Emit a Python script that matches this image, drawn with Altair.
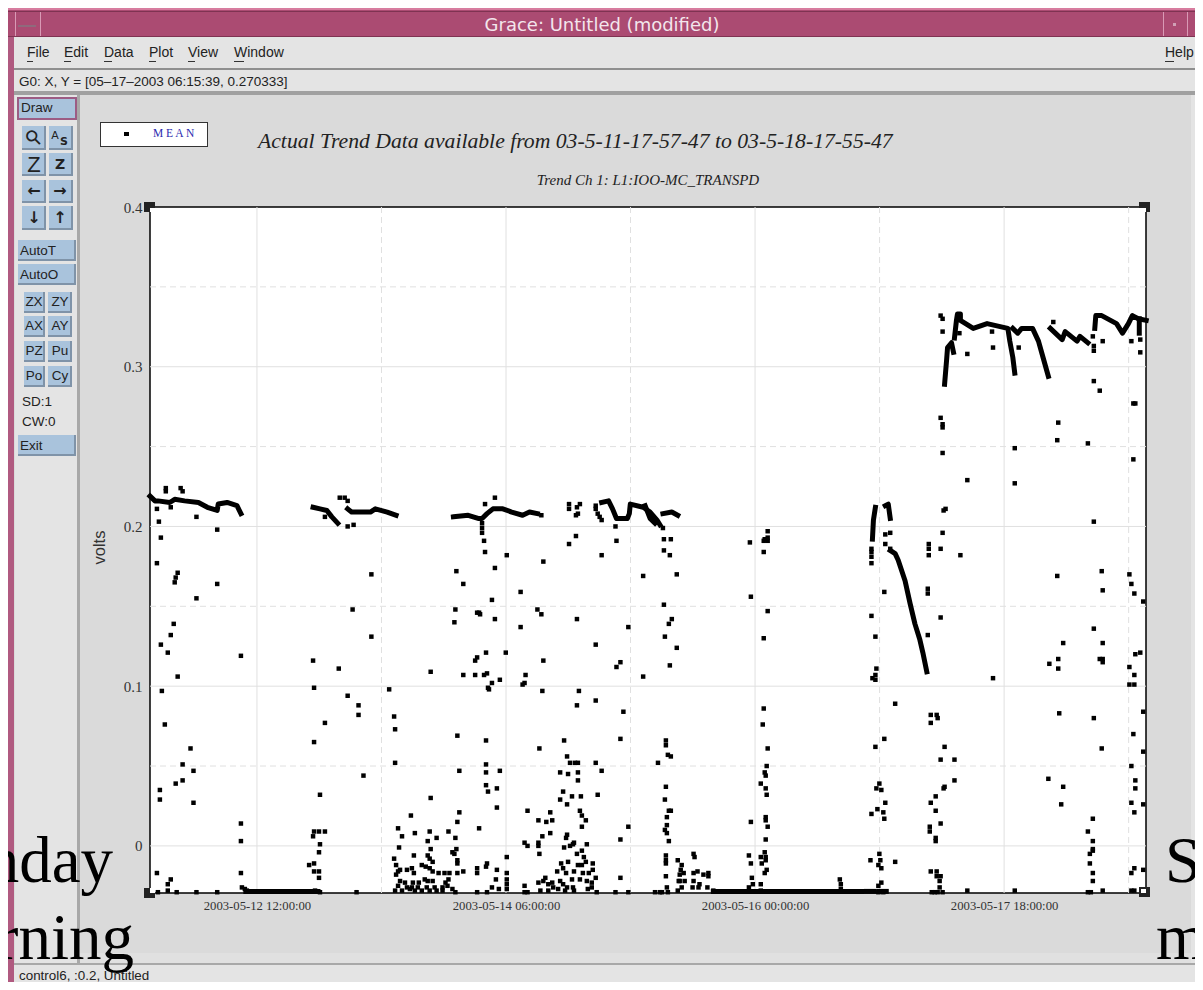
import altair as alt
import pandas as pd

# ---- time base: one step = ten minutes of trend data
START = pd.Timestamp("2003-05-11 17:57:47")

# ---- stray samples (step, millivolts)
strays_may11 = [(9,203),(47,206),(68,198),(11,193),(7,177),(28,171),(25,165),(26,168),(68,164),(47,155),(24,139),(21,132),(11,126),(18,121),(92,119),(28,106),(12,97),
    (15,76),(41,61),(33,51),(44,47),(33,41),(26,39),(10,35),(10,29),(44,27),(7,-17),(21,-21),(18,-24),(18,-28),(27,-29),(8,-29),(47,-29),(68,-29),
    (16,224),(16,222),(31,224),(33,222),(7,211),(21,212),(92,14),(92,3),(92,-17),(93,-26),(96,-27),(98,-28)]
strays_may12 = [(165,116),(191,111),(166,99),(200,94),(211,88),(242,98),(224,170),(205,148),(224,131),(200,200),(206,201),(211,82),(177,77),(166,65),(172,32),(216,44),
    (166,9),(171,9),(177,9),(165,6),(172,1),(171,-4),(161,-12),(166,-11),(166,-16),(171,-16),(171,-20),(167,-28),(172,-29),(209,-29),(177,206),(192,218),(197,218),(200,216)]
strays_may13 = [(310,172),(317,164),(309,148),(308,140),(331,146),(333,146),(338,191),(339,184),(340,121),(331,118),(329,116),(284,109),(317,107),(329,107),(338,107),(341,108),(342,99),(343,98),
    (339,214),(336,199),(336,196),(336,202),(311,69),(313,47),(340,66),(340,51),(340,46),(340,38),(342,34),(333,11),(247,81),(248,73),(248,52),(251,11),(255,6),(268,8),(264,19),(284,30),(283,9),(281,3),(290,5),(302,9),(309,5),(313,21),(311,15)]
cluster_may13 = [(252,-1),(247,-8),(249,-12),(251,-16),(249,-18),(253,-15),(260,-15),(265,-14),(267,-17),(267,-6),(284,-2),(281,-6),(283,-8),(286,-10),(275,-12),(279,-13),(283,-14),(286,-16),(292,-17),(298,-17),(303,-17),(311,-17),(317,-16),
    (306,-4),(310,-2),(308,-5),(311,-9),(311,-11),(331,-14),(331,-17),(341,-11),(340,-13),(278,-21),(281,-22),(286,-22),(302,-21),(299,-23),(253,-22),(258,-23),(266,-23),(272,-23),(251,-25),(260,-26),(265,-26),(271,-26),(280,-26),(288,-26),(296,-26),(301,-25),(306,-27),
    (248,-28),(255,-28),(263,-27),(268,-28),(275,-28),(283,-28),(290,-28),(296,-28),(309,-29),(331,-29),(341,-29)]
strays_may14 = [(349,218),(396,207),(424,214),(424,211),(435,214),(432,212),(433,208),(431,207),(451,213),(451,211),(453,208),(457,204),(455,206),(471,200),(472,191),(457,182),(349,174),(361,182),(398,178),(346,154),(349,142),(334,145),(375,159),(392,148),(396,145),(375,137),
    (360,121),(398,116),(346,102),(354,104),(380,107),(379,102),(377,101),(397,97),(434,97),(451,91),(432,88),(424,189),(431,194),(432,142),(451,126),(476,115),(472,112),(499,169),(499,106),(484,137),
    (520,192),(527,192),(520,185),(526,182),(533,170),(520,151),(528,142),(525,139),(521,131),(533,124),(526,113),(519,199)]
cluster_may14 = [(479,84),(476,67),(394,61),(419,66),(422,56),(425,52),(430,52),(433,52),(451,52),(457,47),(415,46),(423,45),(433,46),(433,41),(354,47),(351,36),(351,24),(418,34),(427,31),(436,31),(453,32),(415,29),(422,26),(382,22),(405,21),(435,22),(437,19),(441,16),(437,12),(393,16),(401,15),(407,16),(405,8),(397,6),(422,7),(421,5),
    (379,2),(382,0),(393,2),(393,0),(394,-5),(419,-1),(425,0),(428,1),(429,2),(442,1),(437,-3),(432,-5),(439,-7),(441,-10),(361,-7),(416,-11),(423,-10),(448,-11),(433,-12),(437,-12),(351,-15),(361,-17),(412,-16),(418,-14),(421,-17),(429,-16),(438,-17),(444,-17),(448,-15),
    (350,-21),(361,-21),(361,-24),(361,-27),(346,-26),(353,-27),(379,-25),(379,-29),(382,-29),(400,-20),(393,-23),(398,-22),(403,-24),(407,-23),(415,-22),(418,-24),(422,-26),(427,-21),(435,-21),(442,-22),(447,-23),(451,-20),(447,-26),(428,-26),(408,-26),(395,-28),(403,-28),(413,-27),(420,-28),(429,-28),(443,-27),(452,-29),(471,-29),(484,-29),(476,-20),(476,4),(484,12)]
column_may15 = [(522,66),(522,63),(514,52),(524,57),(527,56),(522,37),(521,29),(525,22),(527,22),(523,18),(523,13),(521,10),(523,8),(525,3),(522,-6),(522,-11),(522,-9),(522,-19),(523,-26),(518,-29),(524,-29),(511,-29),(516,-29),
    (534,-9),(537,-15),(536,-18),(540,-17),(535,-22),(541,-22),(538,-26),(534,-28),(551,-7),(550,-5),(550,-17),(554,-16),(560,-18),(565,-17),(565,-19),(550,-22),(556,-24),(564,-26),(549,-26),(570,-28),(555,-26),(536,-22),(538,-12)]
column_may16 = [(621,86),(620,76),(625,61),(624,50),(623,44),(622,46),(618,39),(623,36),(624,32),(623,18),(623,16),(625,12),(608,15),(623,4),(606,-6),(608,-11),(618,-7),(619,-11),(622,-4),(623,-7),(623,-9),(624,-15),(622,-17),(609,-20),(618,-24),(610,-24),(606,-26),(618,-28),
    (625,197),(625,193),(622,192),(621,191),(625,191),(621,184),(607,190),(608,156),(625,147),(621,130)]
strays_may17 = [(800,332),(802,330),(802,322),(800,268),(802,264),(802,262),(802,246),(827,308),(853,312),(879,312),(827,229),(875,249),(875,227),(914,328),(919,265),(918,254),(949,252),(964,316),(955,310),(955,313),(955,291),(961,285),(955,203),(993,316),(1002,317),(1002,309),(995,277),(997,277),(995,242),
    (803,210),(805,211),(802,196),(800,186),(749,196),(744,195),(749,186),(788,189),(788,186),(730,186),(744,189),(788,182),(820,182),(730,184),(730,181),(730,177),(743,159),(787,161),(787,158),(730,144),(800,143),(787,132),(734,131),(735,111),(734,107),(731,105),(734,104),(754,89),(853,105),(819,321),(852,322),(954,319)]
strays_may18 = [(918,169),(963,172),(964,160),(991,170),(993,164),(996,158),(1005,153),(955,136),(924,127),(964,127),(919,117),(910,114),(919,111),(961,117),(964,117),(964,115),(997,120),(1002,121),(991,112),(996,107),(991,101),(996,101),(920,83),(955,80),(1005,84),(995,70),(963,61),(1005,59),
    (790,82),(796,82),(797,80),(790,77),(743,67),(734,62),(804,62),(800,54),(814,54),(814,41),(804,37),(803,36),(795,31),(790,27),(795,22),(800,14),(789,12),(789,9),(795,3),(795,5),(790,-16),(796,-16),(796,-19),(800,-19),(799,-22),(799,-26),(791,-29),(794,-29),(797,-29),(802,-29),
    (738,39),(735,36),(740,35),(744,27),(736,23),(730,20),(742,21),(743,17),(738,-5),(729,-9),(739,-9),(737,-12),(740,-14),(754,-10),(740,-23),(737,-25),(737,-29),(742,-29),(698,-21),(699,-24),(699,-27),(827,-28),(875,-28),
    (909,42),(924,37),(922,26),(954,17),(949,9),(954,3),(954,-2),(954,-3),(951,-5),(951,-11),(954,-17),(954,-22),(949,-29),(952,-29),(964,-28),(993,50),(997,41),(997,36),(993,27),(1005,26),(996,21),(996,-14),(993,-17),(1005,-15),(993,-28),(996,-28)]

# ---- continuous stretches of the trend (step, millivolts)
run_a = [(0,219),(5,216),(8,216),(20,215),(25,217),(35,216),(49,215),(58,212),(68,210),(69,214),(78,215),(88,213),(92,208)]
run_b = [(165,212),(172,211),(179,210),(184,206),(190,202)]
run_c = [(200,211),(204,209),(223,209),(228,211),(240,209),(249,207)]
run_d = [(307,206),(322,207),(332,205),(336,205),(341,208),(347,211),(357,211),(366,209),(377,207),(384,209),(392,208)]
run_e = [(457,215),(464,216),(468,211),(472,205),(483,205),(485,208),(486,214),(499,212),(506,209),(513,204),(516,201)]
run_f = [(501,213),(506,205),(511,202)]
run_g = [(519,208),(528,209),(534,207)]
run_h = [(731,192),(732,204),(734,212)]
run_i = [(744,213),(747,214),(749,205)]
run_j = [(749,185),(754,183),(757,179),(764,166),(769,152),(774,139),(779,129),(782,121),(786,109)]
run_k = [(804,289),(806,304),(807,312),(811,315),(813,309)]
run_l = [(814,318),(816,329),(817,333),(820,333),(820,329),(833,324),(847,327),(868,324),(870,316),(873,306),(875,296)]
run_m = [(873,324),(878,321),(882,324),(893,324),(899,316),(904,305),(909,294)]
run_n = [(911,324),(923,317),(926,322),(938,316),(941,319),(949,315)]
run_o = [(956,324),(957,332),(963,332),(978,327),(984,321),(990,327),(994,332),(1000,330),(1008,329)]
run_p = [(1001,330),(1001,321)]
floor_a = [(97,-28.5),(170,-28.5)]
floor_b = [(570,-28.5),(720,-28.5)]
floor_c = [(725,-28.5),(733,-28.5)]
floor_d = [(738,-28.5),(745,-28.5)]

# ---- axis grid times and texts
major_hours = ["2003-05-12 12:00:00", "2003-05-14 06:00:00", "2003-05-16 00:00:00", "2003-05-17 18:00:00"]
minor_hours = ["2003-05-13 09:00:00", "2003-05-15 03:00:00", "2003-05-16 21:00:00", "2003-05-18 15:00:00"]
major_volts = [0.0, 0.1, 0.2, 0.3]
minor_volts = [0.05, 0.15, 0.25, 0.35]
volt_ticks = [0, 0.1, 0.2, 0.3, 0.4]
menu_items = ["File", "Edit", "Data", "Plot", "View", "Window"]

SERIF = "Liberation Serif"
SANS = "Liberation Sans"


def frame(rows):
    df = pd.DataFrame(rows, columns=["step", "mv"])
    df["time"] = START + pd.to_timedelta(df["step"] * 10, unit="min")
    df["volts"] = df["mv"] / 1000
    return df


X_SCALE = alt.Scale(domain=[alt.DateTime(year=2003, month=5, date=11, hours=17, minutes=57, seconds=47),
                            alt.DateTime(year=2003, month=5, date=18, hours=17, minutes=55, seconds=47)])
Y_SCALE = alt.Scale(domain=[-0.0295, 0.4], nice=False, zero=False)
X_AXIS = alt.Axis(
    values=[alt.DateTime(year=2003, month=5, date=12, hours=12), alt.DateTime(year=2003, month=5, date=14, hours=6),
            alt.DateTime(year=2003, month=5, date=16), alt.DateTime(year=2003, month=5, date=17, hours=18)],
    format="%Y-%m-%d %H:%M:%S", grid=False, ticks=False, domain=False, labelFont=SERIF, labelFontSize=12.7,
    labelColor="#333333", labelPadding=6, labelAngle=0, labelFlush=False, labelOverlap=False)
Y_AXIS = alt.Axis(
    values=volt_ticks, format="~g", grid=False, ticks=False, domain=False, labelFont=SERIF, labelFontSize=15,
    labelColor="#333333", labelPadding=8, labelFlush=False, labelOverlap=False,
    titleFont=SANS, titleFontSize=16.5, titleFontWeight="normal", titleColor="#333333", titleX=-43, titleY=340)
FULL_X = alt.X("time:T", scale=X_SCALE, title=None, axis=X_AXIS)
FULL_Y = alt.Y("volts:Q", scale=Y_SCALE, title="volts", axis=Y_AXIS)

PX0, PY0 = 150, 207
layers = []


def box(x0, y0, x1, y1, color, **kw):
    layers.append(alt.Chart().mark_rect(color=color, **kw).encode(
        x=alt.value(x0 - PX0), x2=alt.value(x1 - PX0), y=alt.value(y0 - PY0), y2=alt.value(y1 - PY0)))


def label(text, x, y, size=13.5, font=SANS, color="#222222", align="left", baseline="middle", **kw):
    return alt.Chart().mark_text(text=text, fontSize=size, font=font, color=color, align=align, baseline=baseline, **kw).encode(
        x=alt.value(x - PX0), y=alt.value(y - PY0))


def write(*a, **k):
    layers.append(label(*a, **k))


def button(x0, y0, x1, y1, border=None):
    box(x0, y0, x1, y1, border or "#7f93a8")
    box(x0 + (2 if border else 0), y0 + (2 if border else 0), x1 - 2, y1 - 2, "#a9c3dc")


# ---- window chrome
box(8, 8, 1203, 37, "#ab4b72")
box(8, 8, 1203, 10, "#d77c9f")
box(8, 11, 1203, 12, "#7f3352")
box(8, 36, 1203, 37, "#7f3352")
box(14, 37, 1203, 68, "#e4e4e4")
box(8, 37, 14, 990, "#b05a80")
box(8, 987, 1203, 990, "#b05a80")
box(14, 68, 1203, 70, "#8f8f8f")
box(14, 70, 1203, 91, "#e4e4e4")
box(14, 91, 1203, 95, "#a0a0a0")
box(15, 95, 77, 964, "#e4e4e4")
box(77, 95, 80, 964, "#a8a8a8")
box(1191, 95, 1203, 964, "#e4e4e4")
box(80, 953, 1191, 963, "#e0e0e0")
box(14, 963, 1203, 965, "#a8a8a8")
box(14, 965, 1203, 987, "#e4e4e4")
box(15, 12, 16, 36, "#d99ab5")
box(40, 12, 41, 36, "#d99ab5")
box(18, 25, 36, 27, "#8f6a7c")
box(1163, 12, 1164, 36, "#d99ab5")
box(1187, 12, 1188, 36, "#d99ab5")
box(1173, 23, 1176, 26, "#d0a0b5")
write("Grace: Untitled (modified)", 602, 26, size=18, font="DejaVu Sans", color="#f3e6ec", align="center")

for name, x, w in zip(menu_items, [27, 64, 104, 149, 188, 234], [6, 7, 8, 7, 7, 10]):
    write(name, x, 53, size=14)
    box(x, 61, x + w, 62, "#333333")
write("Help", 1165, 53, size=14)
box(1165, 61, 1174, 62, "#333333")
write("G0: X, Y = [05–17–2003 06:15:39, 0.270333]", 19, 82, size=13.5)
write("control6, :0.2, Untitled", 19, 976, size=13.4)

# ---- tool panel
button(17, 97, 77, 120, border="#9c5c84")
write("Draw", 21, 108)
for y0, y1 in [(126, 150), (153, 176), (180, 203), (206, 230)]:
    button(22, y0, 46, y1)
    button(49, y0, 73, y1)
write("⚲", 34, 138, size=20, font="DejaVu Sans", align="center", angle=315)
write("A", 55, 136, size=11, font="DejaVu Sans", align="center")
write("S", 64, 142, size=11, font="DejaVu Sans", align="center", fontWeight="bold")
write("Z", 34, 165, size=22, align="center")
write("Z", 60, 165, size=14, font="DejaVu Sans", align="center", fontWeight="bold")
write("←", 34, 191, size=16, font="DejaVu Sans", align="center", fontWeight="bold")
write("→", 60, 191, size=16, font="DejaVu Sans", align="center", fontWeight="bold")
write("↓", 34, 218, size=16, font="DejaVu Sans", align="center", fontWeight="bold")
write("↑", 60, 218, size=16, font="DejaVu Sans", align="center", fontWeight="bold")
for text, y0, y1 in [("AutoT", 240, 261), ("AutoO", 264, 285), ("Exit", 435, 456)]:
    button(18, y0, 76, y1)
    write(text, 20, (y0 + y1) / 2)
for (t1, t2), y0 in zip([("ZX", "ZY"), ("AX", "AY"), ("PZ", "Pu"), ("Po", "Cy")], [292, 316, 341, 366]):
    button(24, y0, 45, y0 + 21)
    button(48, y0, 72, y0 + 21)
    write(t1, 34, y0 + 10, align="center")
    write(t2, 60, y0 + 10, align="center")
write("SD:1", 22, 402)
write("CW:0", 22, 422)

# ---- legend and titles
box(100, 122, 208, 147, "#333333")
box(101, 123, 207, 146, "#ffffff")
box(124, 132, 129, 136, "#000000")
write("M E A N", 153, 134, size=11.5, font=SERIF, color="#2a2ab0")
write("Actual Trend Data available from 03-5-11-17-57-47 to 03-5-18-17-55-47", 258, 141, size=21.7, font=SERIF, color="#222222", fontStyle="italic")
write("Trend Ch 1: L1:IOO-MC_TRANSPD", 648, 180, size=15, font=SERIF, color="#222222", align="center", fontStyle="italic")

# ---- grid
grid_major = pd.DataFrame({"time": pd.to_datetime(major_hours)})
grid_minor = pd.DataFrame({"time": pd.to_datetime(minor_hours)})
grid_v = pd.DataFrame({"volts": major_volts})
grid_w = pd.DataFrame({"volts": minor_volts})
layers.append(alt.Chart(grid_major).mark_rule(color="#e0e0e0", strokeWidth=1).encode(x=FULL_X))
layers.append(alt.Chart(grid_minor).mark_rule(color="#e0e0e0", strokeWidth=1, strokeDash=[6, 4]).encode(x=FULL_X))
layers.append(alt.Chart(grid_v).mark_rule(color="#e0e0e0", strokeWidth=1).encode(y=FULL_Y))
layers.append(alt.Chart(grid_w).mark_rule(color="#e0e0e0", strokeWidth=1, strokeDash=[6, 4]).encode(y=FULL_Y))

# ---- data
run_frames = []
for i, run in enumerate([run_a, run_b, run_c, run_d, run_e, run_f, run_g, run_h, run_i, run_j, run_k, run_l, run_m, run_n, run_o, run_p,
                         floor_a, floor_b, floor_c, floor_d]):
    run_frames.append(frame(run).assign(run=i))
runs = pd.concat(run_frames)
layers.append(alt.Chart(runs).mark_line(color="#000000", strokeWidth=5, strokeCap="square", strokeJoin="round").encode(
    x=FULL_X, y=FULL_Y, detail="run:N", order="step:Q"))

samples = frame(strays_may11 + strays_may12 + strays_may13 + cluster_may13 + strays_may14 + cluster_may14 + column_may15 + column_may16 + strays_may17 + strays_may18)
layers.append(alt.Chart(samples).mark_square(color="#000000", size=20, opacity=1).encode(x=FULL_X, y=FULL_Y))

# ---- corner handles
for x0, y0, ix0, iy0, ix1, iy1 in [(144, 202, 150, 208, 155, 212), (1139, 202, 1139, 208, 1146, 212),
                                    (144, 888, 150, 888, 155, 893), (1139, 887, 1141, 889, 1146, 893)]:
    box(x0, y0, x0 + 11, y0 + 10, "#222222")
    box(ix0, iy0, ix1, iy1, "#ffffff")

# ---- overlaid slide text
write("nday", 113, 882, size=65, font=SERIF, color="#000000", align="right", baseline="alphabetic")
write("rning", 134, 959, size=65, font=SERIF, color="#000000", align="right", baseline="alphabetic")
write("Su", 1165, 882, size=65, font=SERIF, color="#000000", baseline="alphabetic")
write("m", 1156, 959, size=65, font=SERIF, color="#000000", baseline="alphabetic")

chart = alt.layer(*layers).properties(
    width=996, height=686,
    autosize=alt.AutoSizeParams(type="none"),
    padding={"left": 142, "top": 199, "right": 49, "bottom": 89},
    background="#dadada",
).configure_view(fill="#ffffff", stroke="#000000", strokeWidth=1.5)

chart.save("out.html", embed_options={"renderer": "svg", "actions": False})
